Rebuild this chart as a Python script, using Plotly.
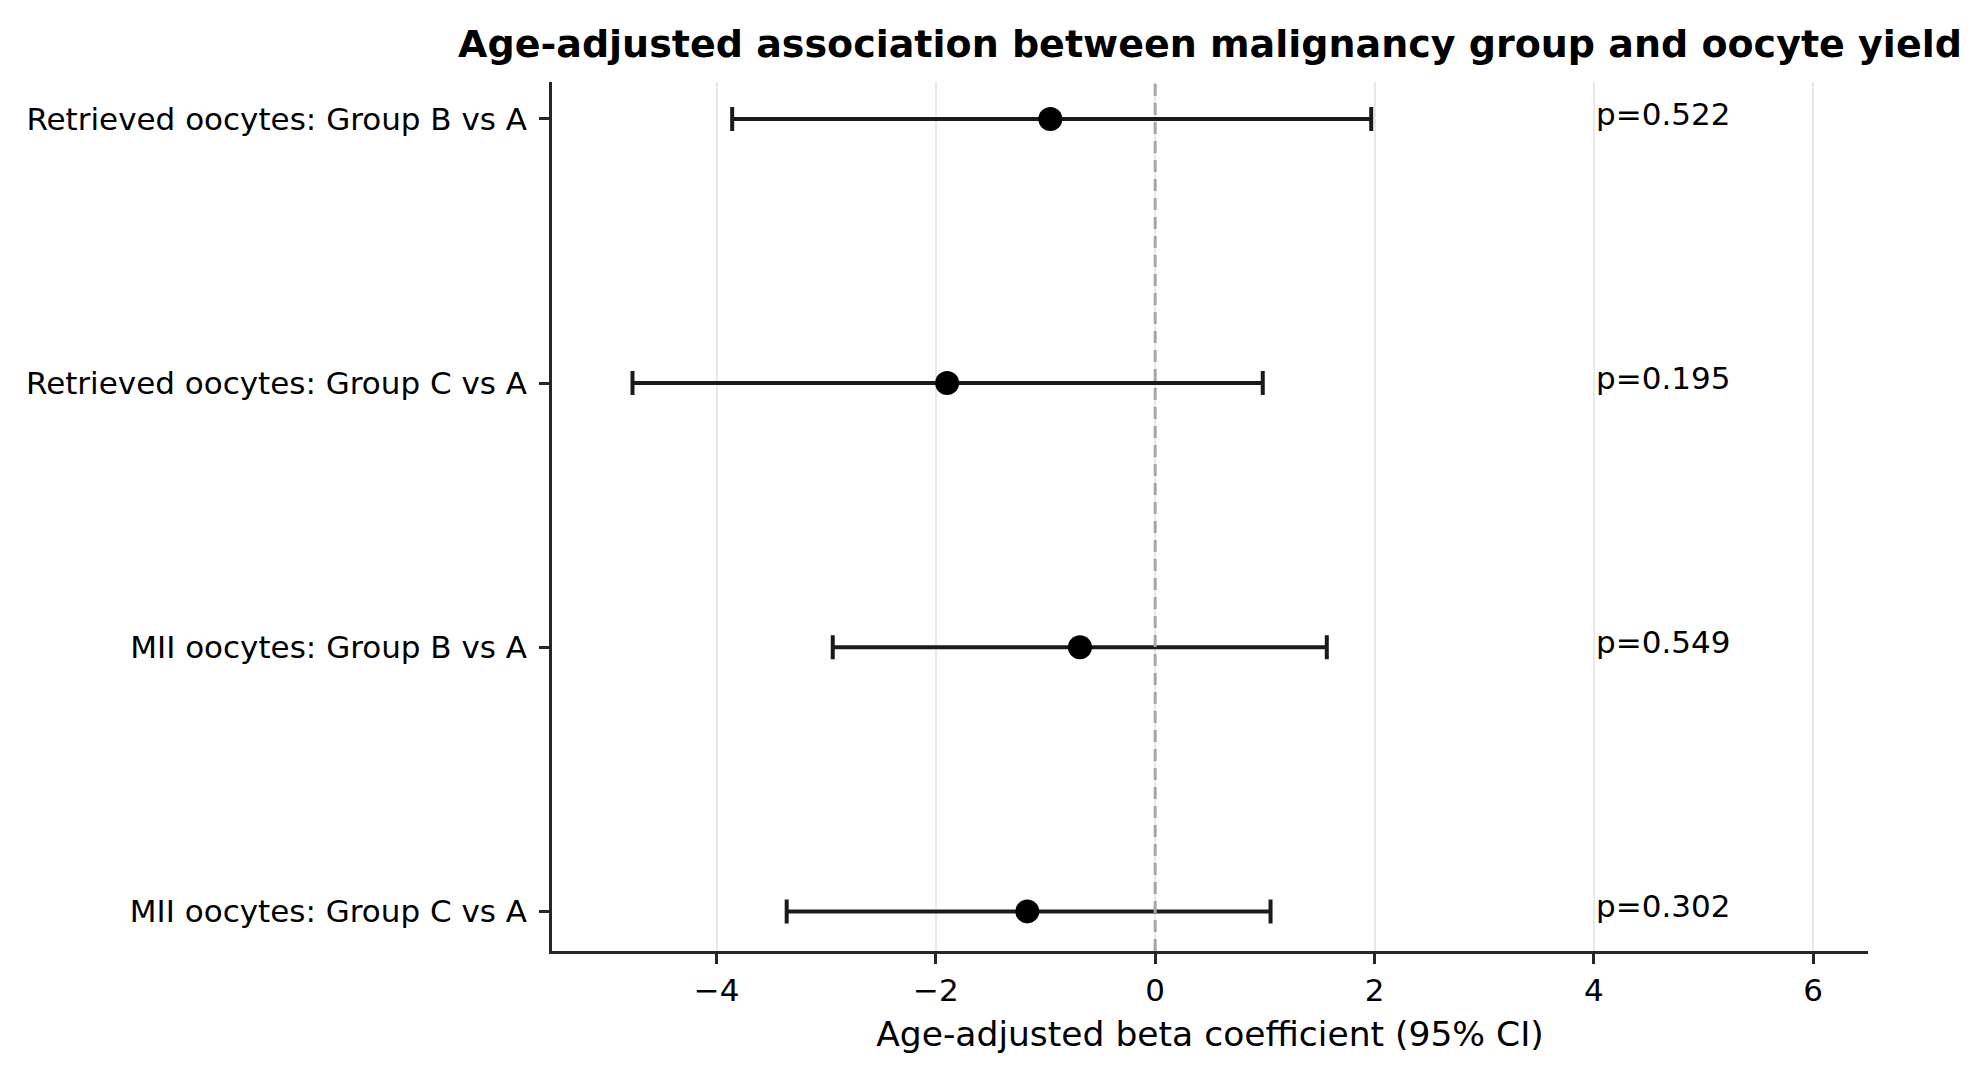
import plotly.graph_objects as go

labels = ["Retrieved oocytes: Group B vs A", "Retrieved oocytes: Group C vs A",
          "MII oocytes: Group B vs A", "MII oocytes: Group C vs A"]
beta = [-0.956, -1.897, -0.686, -1.166]
ci_low = [-3.857, -4.766, -2.94, -3.36]
ci_high = [1.97, 0.981, 1.565, 1.052]
p_vals = ["p=0.522", "p=0.195", "p=0.549", "p=0.302"]
x_ticks = [-4, -2, 0, 2, 4, 6]
x_tick_text = ["\u22124", "\u22122", "0", "2", "4", "6"]

ypos = list(range(len(labels)))
FONT = "DejaVu Sans"

fig = go.Figure()
fig.add_trace(go.Scatter(
    x=beta, y=ypos, mode="markers",
    marker=dict(color="black", size=24),
    error_x=dict(type="data", symmetric=False,
                 array=[h - b for h, b in zip(ci_high, beta)],
                 arrayminus=[b - l for b, l in zip(beta, ci_low)],
                 color="#1a1a1a", thickness=4, width=12),
    showlegend=False,
))

fig.add_shape(type="line", x0=0, x1=0, y0=0, y1=1, xref="x", yref="paper",
              line=dict(color="#a6a6a6", width=3, dash="12px,7px"), layer="above")

for i, p in enumerate(p_vals):
    fig.add_annotation(x=4, y=i, text=p, xref="x", yref="y", showarrow=False,
                       xanchor="left", yanchor="middle", yshift=5,
                       font=dict(family=FONT, size=31, color="black"))

fig.update_layout(
    width=1984, height=1079,
    paper_bgcolor="white", plot_bgcolor="white",
    margin=dict(l=552, r=116, t=82, b=128),
    title=dict(text="<b>Age-adjusted association between malignancy group and oocyte yield</b>",
               x=0.5, xref="paper", xanchor="center",
               y=1 - 44 / 1079, yref="container", yanchor="middle",
               font=dict(family=FONT, size=38, color="black")),
    font=dict(family=FONT, color="black"),
)

fig.update_xaxes(
    range=[-5.5, 6.5], tickvals=x_ticks, ticktext=x_tick_text,
    showgrid=True, gridcolor="#e8e8e8", gridwidth=1.5,
    zeroline=False, showline=True, linecolor="#262626", linewidth=3,
    ticks="outside", ticklen=10, tickwidth=2.5, tickcolor="#262626",
    tickfont=dict(family=FONT, size=31, color="black"),
    title=dict(text="Age-adjusted beta coefficient (95% CI)",
               font=dict(family=FONT, size=34.5, color="black"), standoff=15),
)
fig.update_yaxes(
    range=[3.15, -0.14], tickvals=ypos, ticktext=labels,
    showgrid=False, zeroline=False, showline=True, linecolor="#262626", linewidth=2.5,
    ticks="outside", ticklen=10, tickwidth=2.5, tickcolor="#262626",
    ticklabelstandoff=6,
    tickfont=dict(family=FONT, size=31, color="black"),
)

fig.write_html("out.html")
